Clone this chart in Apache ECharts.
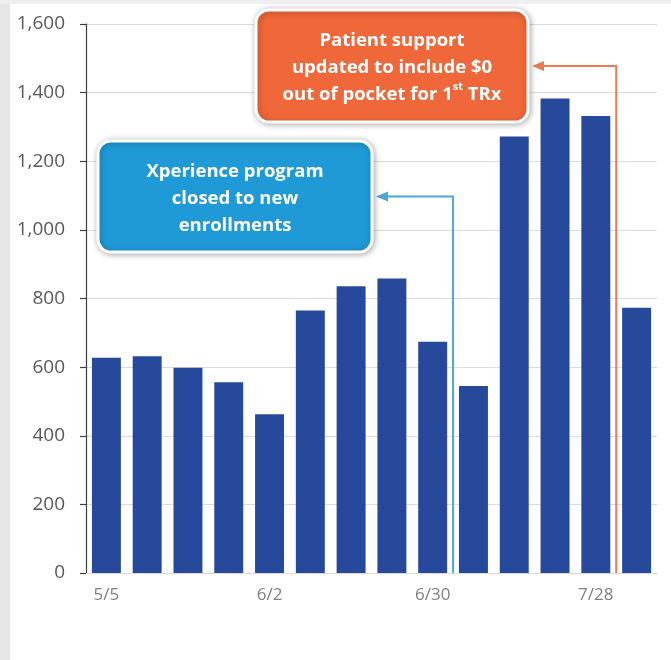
<!DOCTYPE html>
<html>
<head>
<meta charset="utf-8">
<script src="https://cdn.jsdelivr.net/npm/echarts@6/dist/echarts.min.js"></script>
<style>
  html, body { margin: 0; padding: 0; background: #fff; }
  #chart { width: 671px; height: 660px; }
</style>
</head>
<body>
<div id="chart"></div>
<script>
// Weekly counts, by week starting date
const categories = ['5/5', '5/12', '5/19', '5/26', '6/2', '6/9', '6/16', '6/23', '6/30', '7/7', '7/14', '7/21', '7/28', '8/4'];
const weeklyCounts = [627, 632, 598, 556, 463, 765, 836, 858, 674, 545, 1272, 1383, 1332, 773];
const yAxisMax = 1600;
const yAxisStep = 200;

// Event callouts: the arrow drops on the boundary after the given week index
const callouts = [
  {
    lines: ['Patient support', 'updated to include $0', 'out of pocket for 1{s|st} TRx'],
    afterIndex: 12,
    color: '#F0683A',
    lineColor: '#EE7A4E',
    box: { x: 256, y: 10, w: 272, h: 112 }
  },
  {
    lines: ['Xperience program', 'closed to new', 'enrollments'],
    afterIndex: 8,
    color: '#1F9AD6',
    lineColor: '#4FA6D0',
    box: { x: 98, y: 141, w: 274, h: 111 }
  }
];

const chart = echarts.init(document.getElementById('chart'), null, { renderer: 'canvas' });

const option = {
  backgroundColor: '#ffffff',
  animation: false,
  grid: { left: 86, right: 14, top: 24, bottom: 87, containLabel: false },
  xAxis: {
    type: 'category',
    data: categories,
    axisLine: { show: true, lineStyle: { color: '#d9d9d9', width: 1 } },
    axisTick: { show: false },
    axisLabel: {
      interval: 3,
      color: '#7f7f7f',
      fontFamily: 'Open Sans',
      fontSize: 17,
      margin: 14
    },
    splitLine: { show: false }
  },
  yAxis: {
    type: 'value',
    min: 0,
    max: yAxisMax,
    interval: yAxisStep,
    axisLine: { show: true, lineStyle: { color: '#404040', width: 1.2 } },
    axisTick: { show: true, length: 6, lineStyle: { color: '#404040', width: 1.2 } },
    axisLabel: {
      color: '#595959',
      fontFamily: 'Open Sans',
      fontSize: 19,
      margin: 21,
      formatter: v => v.toLocaleString('en-US')
    },
    splitLine: { show: true, lineStyle: { color: '#dcdcdc', width: 1 } }
  },
  series: [{
    type: 'bar',
    data: weeklyCounts,
    barWidth: '71%',
    itemStyle: { color: '#27499B' },
    silent: true
  }]
};

chart.setOption(option);

function buildGraphics() {
  const els = [];
  // light frame along the left and top edges
  els.push({ type: 'rect', shape: { x: 0, y: 0, width: 10, height: 660 }, style: { fill: '#e6e6e6' }, silent: true });
  els.push({ type: 'rect', shape: { x: 0, y: 0, width: 671, height: 4 }, style: { fill: '#efefef' }, silent: true });

  const yBase = chart.convertToPixel({ yAxisIndex: 0 }, 0);

  callouts.forEach(c => {
    const xa = chart.convertToPixel({ xAxisIndex: 0 }, c.afterIndex);
    const xb = chart.convertToPixel({ xAxisIndex: 0 }, c.afterIndex + 1);
    const xLine = (xa + xb) / 2;
    const yMid = c.box.y + c.box.h / 2;
    const tipX = c.box.x + c.box.w + 4;

    // connector: up from the axis, then left towards the box
    els.push({
      type: 'polyline',
      shape: { points: [[xLine, yBase], [xLine, yMid], [tipX + 10, yMid]] },
      style: { stroke: c.lineColor, lineWidth: 2, fill: null },
      silent: true,
      z: 10
    });
    els.push({
      type: 'polygon',
      shape: { points: [[tipX, yMid], [tipX + 12, yMid - 5], [tipX + 12, yMid + 5]] },
      style: { fill: c.lineColor },
      silent: true,
      z: 10
    });

    // callout box
    els.push({
      type: 'rect',
      shape: { x: c.box.x, y: c.box.y, width: c.box.w, height: c.box.h, r: 13 },
      style: {
        fill: c.color,
        stroke: '#ffffff',
        lineWidth: 3,
        shadowBlur: 6,
        shadowColor: 'rgba(0,0,0,0.3)',
        shadowOffsetX: 1,
        shadowOffsetY: 1
      },
      silent: true,
      z: 20
    });
    els.push({
      type: 'text',
      x: c.box.x + c.box.w / 2,
      y: yMid + 2,
      style: {
        text: c.lines.join('\n'),
        fill: '#ffffff',
        fontFamily: 'Open Sans',
        fontWeight: 'bold',
        fontSize: 18.5,
        lineHeight: 27,
        align: 'center',
        verticalAlign: 'middle',
        rich: {
          s: { fontSize: 11, fontWeight: 'bold', fontFamily: 'Open Sans', fill: '#ffffff', lineHeight: 16, verticalAlign: 'top' }
        }
      },
      silent: true,
      z: 21
    });
  });
  return els;
}

chart.setOption({ graphic: { elements: buildGraphics() } });
</script>
</body>
</html>
